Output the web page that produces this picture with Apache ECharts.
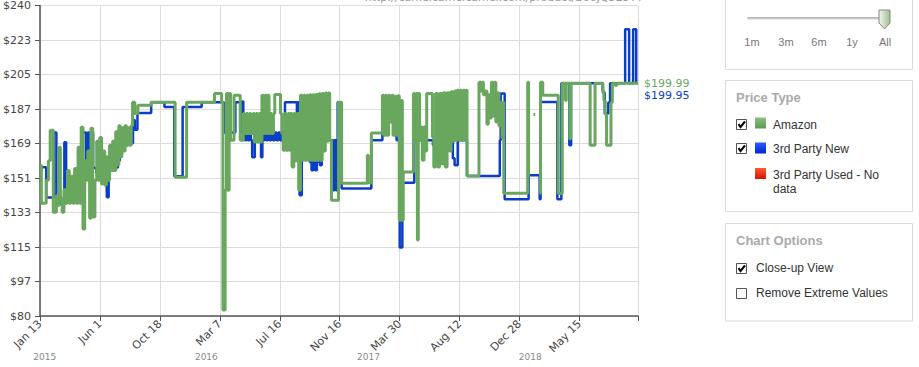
<!DOCTYPE html>
<html><head><meta charset="utf-8">
<script src="https://cdn.jsdelivr.net/npm/echarts@6/dist/echarts.min.js"></script>
<style>html,body{margin:0;padding:0;background:#fff;}#c{width:919px;height:367px;}</style>
</head><body><div id="c"></div>
<script>
// y tick labels (bottom to top) and x tick labels
const yTickLabels = ['$80','$97','$115','$133','$151','$169','$187','$205','$223','$240'];
const xTickLabels = ['Jan 13','Jun 1','Oct 18','Mar 7','Jul 16','Nov 16','Mar 30','Aug 12','Dec 28','May 15'];
const yearLabels = ['2015','2016','2017','2018'];
const yearStartDays = [-12, 353, 719, 1084];   // days since 2015-01-13
const rangeSelectors = ['1m','3m','6m','1y','All'];
const legendItems = ['Amazon','3rd Party New','3rd Party Used - No','data'];
const urlText = 'http://camelcamelcamel.com/product/B00JQ5E9YY';

// [days since 2015-01-13, price $]
const amazonPrices = [
[0,157.7],[3,138.1],[14,150],[19,160],[23,175.7],[30,133.5],[37,142],[41,137],[43,166.9],[46,140],[50,133.5],[54,145],[58,138.1],[62,155],[66,138.1],[70,152],[74,138.1],[78,156],[82,138.1],[86,166.9],[90,138.1],[93,177.2],[97,124.8],[101,160],[104,150],[108,165],[112,130.4],[115,176.7],[119,131],[124,150],[128,170],[131,150],[135,172],[139,148],[142,165],[146,147.5],[150,162],[153,150],[157,168],[160,155],[164,170],[167,155],[171,175],[174,158],[178,178],[181,162],[185,177],[188,165],[192,178],[195,168],[199,177],[202,168],[206,178],[209,190.1],[214,184.4],[221,188.6],[251,190.2],[305,151.5],[331,190.2],[394,194.7],[410,190.2],
[413,83.1],[418,144.8],[421,194.7],[424,144.8],[427,194.7],[430,170.5],[438,193.7],[452,170.5],[459,184.3],[462,174],[466,184.3],[469,174],[473,184.3],[476,174],[481,184.3],[484,169.7],[488,184.3],[491,169.7],[495,184.3],[498,169.7],[501,193.7],[504,174],[508,193.7],[511,174],[514,193.7],[517,174],[520,184.3],[523,174],[527,184.3],[530,194.2],[543,184.3],[546,174],[549,165.4],[553,184.3],[556,165.4],[560,184.3],[563,165.4],[566,184.3],[569,156.8],[573,184.3],[576,160],[580,184.3],[584,144.8],[588,193.7],[591,160.3],[595,193.7],[598,160.3],[602,193.7],[605,160.3],[609,194],[612,160.3],[616,194],[619,160.3],[623,194.2],[626,160.3],[630,194.5],[633,160.3],[637,194.7],[640,165],[644,194.9],[647,170],[651,194.9],[654,170.5],[658,139.7],[674,190.2],[681,148.4],
[739,162.8],[741,148.6],[748,174.3],[773,193.7],[776,173.1],[780,193.7],[783,173.1],[787,193.7],[790,180],[794,193.7],[797,173.1],[801,193.2],[804,173.1],[808,193.5],[811,129.4],[815,191],[818,129.4],[820,154.2],[843,194.7],[846,170.5],[849,194.7],[852,119.1],[854,194.7],[857,170.5],[860,177.4],[863,160.3],[867,177.4],[870,165],[873,194.6],[886,172.3],[889,156.8],[893,194.6],[898,156.8],[902,194.6],[907,158.5],[911,195],[915,156.8],[919,195],[924,165],[928,195.5],[932,170],[936,196],[939,170.5],[942,196.3],[945,170.5],[949,196.3],[952,170.5],[956,196.3],[959,170.5],[962,196.3],[964,152.2],[991,200.5],[995,196],[998,200.5],[1001,194],[1005,196],[1009,178.8],[1012,194],[1016,182],[1019,200.5],[1022,183],[1026,200.5],[1029,180],[1033,195],[1036,178],[1040,190],[1043,172],[1045,190.2],[1047,143.3],
[1101,200.5],[1103,152.5],[1106,152.5],[1107,'-'],[1114,183.8],[1118,183.8],[1119,'-'],[1128,143.3],[1130,200.5],[1135,193.7],[1170,143.1],[1179,199.99],[1186,191],[1188,199.99],[1196,171.4],[1198,199.99],[1242,168],[1253,199.99],[1270,196],[1273,191],[1276,184],[1279,168],[1286,168],[1289,190],[1292,199.99],[1298,198.9],[1303,199.99],[1350,199.99]
];

const thirdPartyNewPrices = [
[0,156.7],[14,141],[31,174.6],[37,141.2],[48,137.5],[55,169.5],[59,144.8],[64,150],[90,166],[94,150],[97,174.6],[104,153.6],[108,174.6],[112,157.7],[115,174.6],[120,156.2],[127,153.6],[135,152],[142,155.1],[150,152],[151,141.2],[155,158],[164,156.5],[176,160],[180,172.6],[187,168],[198,172.6],[207,169],[210,181],[214,176],[220,184.6],[251,190.2],[281,187.7],[303,152],[322,187.7],[365,190.2],
[414,174.6],[418,190.2],[428,174.6],[441,190.2],[453,174.8],[456,190.5],[459,174.6],[462,170.5],[466,174.6],[469,170.5],[473,174.6],[476,170.5],[479,161.8],[485,170.5],[488,174.6],[492,170.5],[495,174.6],[499,161.8],[502,170.5],[506,174.6],[510,170.5],[514,174.6],[518,170.5],[522,174.6],[526,170.5],[530,174.6],[534,170.5],[538,174.6],[542,170.5],[546,174.6],[550,170.5],[553,190.2],[580,174.1],[582,190.2],[586,142.2],[591,166.4],[595,162.8],[599,166.4],[603,162.8],[607,166.4],[609,159.4],[613,155.1],[617,159.4],[621,155.1],[625,159.4],[628,161.9],[632,157.7],[636,165],[643,180.8],[647,170.5],[651,180.8],[654,170.5],[662,144.8],[665,170.5],[668,144.8],[672,190.2],[681,145.7],
[748,170.5],[773,190],[801,173.1],[805,170.5],[809,191.1],[812,115.3],[818,148.6],[845,170.5],[887,168],[899,170.5],[932,161.3],[936,157.7],[943,170.5],[964,152.2],[1038,170.5],[1040,194.6],[1049,140.2],[1103,152.5],[1128,140.2],[1130,190.3],[1168,140.1],[1177,199.95],[1195,168],[1199,199.95],[1271,195],[1275,184.3],[1283,190],[1287,199.95],[1321,227.7],[1330,199.95],[1339,227.7],[1346,199.95],[1350,199.95]
];

const AMZ = '#69a75f', NEW = '#0b3ec6';
const tickStep = 1218 / 9;
const chart = echarts.init(document.getElementById('c'), null, {renderer: 'svg'});
const axisFont = 'DejaVu Sans';

chart.setOption({
  animation: false,
  grid: {left: 37, right: 281, top: 5, bottom: 51, containLabel: false},
  xAxis: {
    type: 'value', min: 0, max: 1350, interval: tickStep,
    axisLine: {show: true, lineStyle: {color: '#555', width: 1.5}},
    axisTick: {show: true, length: 5, lineStyle: {color: '#555'}},
    splitLine: {show: true, lineStyle: {color: '#dcdcdc'}},
    axisLabel: {
      rotate: 45, margin: 6, color: '#444', fontSize: 11, fontFamily: axisFont,
      formatter: v => { const i = Math.round(v / tickStep); return Math.abs(v - i * tickStep) < 1 ? (xTickLabels[i] || '') : ''; }
    }
  },
  yAxis: [
    {type: 'value', min: 80, max: 240, show: false, splitLine: {show: false}},
    {type: 'category', data: yTickLabels, boundaryGap: false, position: 'left',
     axisLine: {show: true, lineStyle: {color: '#555', width: 1.5}},
     axisTick: {show: true, length: 5, lineStyle: {color: '#555'}},
     splitLine: {show: true, lineStyle: {color: '#dcdcdc'}},
     axisLabel: {color: '#444', fontSize: 11, fontFamily: axisFont, margin: 9}}
  ],
  series: [
    {name: '3rd Party New', type: 'line', step: 'end', yAxisIndex: 0, data: thirdPartyNewPrices,
     showSymbol: false, symbol: 'none', lineStyle: {color: NEW, width: 2.5}, itemStyle: {color: NEW}, z: 2,
     endLabel: {show: true, formatter: p => '$' + p.value[1].toFixed(2), color: NEW, fontSize: 11, fontFamily: axisFont, distance: 6, offset: [0, 12]}},
    {name: 'Amazon', type: 'line', step: 'end', yAxisIndex: 0, data: amazonPrices,
     showSymbol: false, symbol: 'none', connectNulls: false, lineStyle: {color: AMZ, width: 3}, itemStyle: {color: AMZ}, z: 3,
     endLabel: {show: true, formatter: p => '$' + p.value[1].toFixed(2), color: AMZ, fontSize: 11, fontFamily: axisFont, distance: 6}}
  ]
});

// side panel and annotations
const sans = 'Liberation Sans';
const g = [];
g.push({type: 'text', right: 919 - 643, top: -8, style: {text: urlText, fill: '#999', font: '11px ' + axisFont}});
yearLabels.forEach((t, i) => {
  const px = chart.convertToPixel({xAxisIndex: 0}, yearStartDays[i]) + 10;
  g.push({type: 'text', x: px, y: 357, style: {text: t, fill: '#888', font: '9px ' + axisFont, textAlign: 'center', textVerticalAlign: 'middle'}});
});
function box(y, h) { g.push({type: 'rect', shape: {x: 725.5, y: y, width: 187, height: h}, style: {fill: '#fff', stroke: '#dadada', lineWidth: 1}}); }
box(-5, 74.5); box(80.5, 131); box(223.5, 97.5);
// slider
g.push({type: 'rect', shape: {x: 747, y: 17, width: 137, height: 3, r: 1.5}, style: {fill: new echarts.graphic.LinearGradient(0,0,0,1,[{offset:0,color:'#aaa'},{offset:1,color:'#eee'}])}});
g.push({type: 'polygon', shape: {points: [[879,10],[890,10],[890,23],[884.5,29],[879,23]]},
  style: {fill: new echarts.graphic.LinearGradient(0,0,1,0,[{offset:0,color:'#f2f6ee'},{offset:1,color:'#9fbf8f'}]), stroke: '#888', lineWidth: 1}});
const selX = [752, 786, 819, 852, 885];
rangeSelectors.forEach((t, i) => g.push({type: 'text', x: selX[i], y: 42, style: {text: t, fill: '#777', font: '11px ' + sans, textAlign: 'center', textVerticalAlign: 'middle'}}));
function title(t, y) { g.push({type: 'text', x: 736, y: y, style: {text: t, fill: '#aaa', font: 'bold 13px ' + sans, textVerticalAlign: 'middle'}}); }
function checkbox(x, y, checked) {
  g.push({type: 'rect', shape: {x: x + 0.5, y: y + 0.5, width: 10, height: 10}, style: {fill: '#fff', stroke: '#555', lineWidth: 1}});
  if (checked) g.push({type: 'polyline', shape: {points: [[x+2.5,y+5],[x+4.5,y+8],[x+9,y+2.5]]}, style: {stroke: '#000', lineWidth: 2, fill: null}});
}
function swatch(y, c1, c2) { g.push({type: 'rect', shape: {x: 755, y: y, width: 11, height: 11}, style: {fill: new echarts.graphic.LinearGradient(0,0,0,1,[{offset:0,color:c1},{offset:1,color:c2}])}}); }
function label(t, x, y) { g.push({type: 'text', x: x, y: y, style: {text: t, fill: '#333', font: '12px ' + sans, textVerticalAlign: 'middle'}}); }
title('Price Type', 97);
checkbox(736, 119, true); swatch(117.5, '#8cc084', '#5a9a52'); label(legendItems[0], 773, 124.5);
checkbox(736, 143, true); swatch(142.5, '#2f5cff', '#0026d0'); label(legendItems[1], 773, 149);
swatch(168, '#ff5a33', '#cc1800'); label(legendItems[2], 773, 175); label(legendItems[3], 773, 189);
title('Chart Options', 240);
checkbox(736, 263, true); label('Close-up View', 756, 268);
checkbox(736, 288, false); label('Remove Extreme Values', 756, 293);
chart.setOption({graphic: g});
</script></body></html>
